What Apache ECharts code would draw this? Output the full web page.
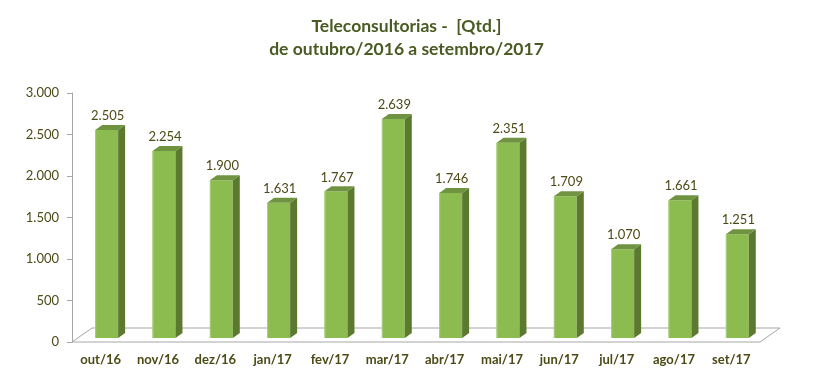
<!DOCTYPE html>
<html>
<head>
<meta charset="utf-8">
<script src="https://cdn.jsdelivr.net/npm/echarts@6/dist/echarts.min.js"></script>
<style>html,body{margin:0;padding:0;background:#fff}#c{width:813px;height:379px}</style>
</head>
<body>
<div id="c"></div>
<script>
const titleLines = ['Teleconsultorias -  [Qtd.]', 'de outubro/2016 a setembro/2017'];
const categories = ['out/16','nov/16','dez/16','jan/17','fev/17','mar/17','abr/17','mai/17','jun/17','jul/17','ago/17','set/17'];
const values = [2505, 2254, 1900, 1631, 1767, 2639, 1746, 2351, 1709, 1070, 1661, 1251];
const yMin = 0, yMax = 3000, yStep = 500;

const textColor = '#4d4a16';
const fmt = v => String(v).replace(/\B(?=(\d{3})+(?!\d))/g, '.');

const chart = echarts.init(document.getElementById('c'));
const DX = 6, DY = -4;      // bar plane offset from front
const SX = 7, SY = -5;      // bar depth
const FX = 20, FY = -14;    // floor depth

chart.setOption({
  animation: false,
  title: {
    text: titleLines.join('\n'),
    left: 'center', top: 10,
    textStyle: { fontFamily: 'Lato', fontWeight: 'bold', fontSize: 17.5, lineHeight: 23, color: '#4a5a22' }
  },
  grid: { left: 72, right: 53, top: 93, bottom: 37 },
  xAxis: {
    type: 'category', data: categories,
    axisLine: { show: false }, axisTick: { show: false },
    axisLabel: { margin: 11, fontFamily: 'Lato', fontWeight: 'bold', fontSize: 13, color: textColor }
  },
  yAxis: {
    type: 'value', min: yMin, max: yMax, interval: yStep,
    splitLine: { show: false },
    axisLine: { show: true, lineStyle: { color: '#a6a6a6', width: 1 } },
    axisTick: { show: true, length: 5, lineStyle: { color: '#a6a6a6' } },
    axisLabel: { margin: 13, fontFamily: 'Lato', fontSize: 13, color: textColor, formatter: v => fmt(v) }
  },
  series: [
    {
      type: 'custom', z: 1, data: [[0, 0]],
      renderItem: function (params, api) {
        const cs = params.coordSys;
        const y0 = api.coord([0, 0])[1];
        const xl = cs.x, xr = cs.x + cs.width;
        return {
          type: 'polygon',
          shape: { points: [[xl, y0], [xr, y0], [xr + FX, y0 + FY], [xl + FX, y0 + FY]] },
          style: { fill: '#ffffff', stroke: '#a6a6a6', lineWidth: 1 }
        };
      }
    },
    {
      type: 'custom', z: 2,
      data: values.map((v, i) => [i, v]),
      renderItem: function (params, api) {
        const i = api.value(0), v = api.value(1);
        const p0 = api.coord([i, 0]), p1 = api.coord([i, v]);
        const bw = api.size([1, 0])[0] * 0.4;
        const cx = p0[0] + DX;
        const xl = cx - bw / 2, xr = cx + bw / 2;
        const yb = p0[1] + DY, yt = p1[1] + DY;
        return {
          type: 'group',
          children: [
            { type: 'rect', shape: { x: xl, y: yt, width: bw, height: yb - yt }, style: { fill: '#8cbb4f' } },
            { type: 'line', shape: { x1: xl + 0.5, y1: yt, x2: xl + 0.5, y2: yb }, style: { stroke: '#a8cf7a', lineWidth: 1 } },
            { type: 'polygon', shape: { points: [[xr, yb], [xr + SX, yb + SY], [xr + SX, yt + SY], [xr, yt]] }, style: { fill: '#5c7a2f' } },
            { type: 'polygon', shape: { points: [[xl, yt], [xl + SX, yt + SY], [xr + SX, yt + SY], [xr, yt]] }, style: { fill: '#6f9340' } },
            { type: 'text', style: { x: cx + 1, y: yt + SY - 9, text: fmt(v), textAlign: 'center', textVerticalAlign: 'middle',
              fontFamily: 'Lato', fontSize: 13, fill: textColor } }
          ]
        };
      }
    }
  ]
});
</script>
</body>
</html>
